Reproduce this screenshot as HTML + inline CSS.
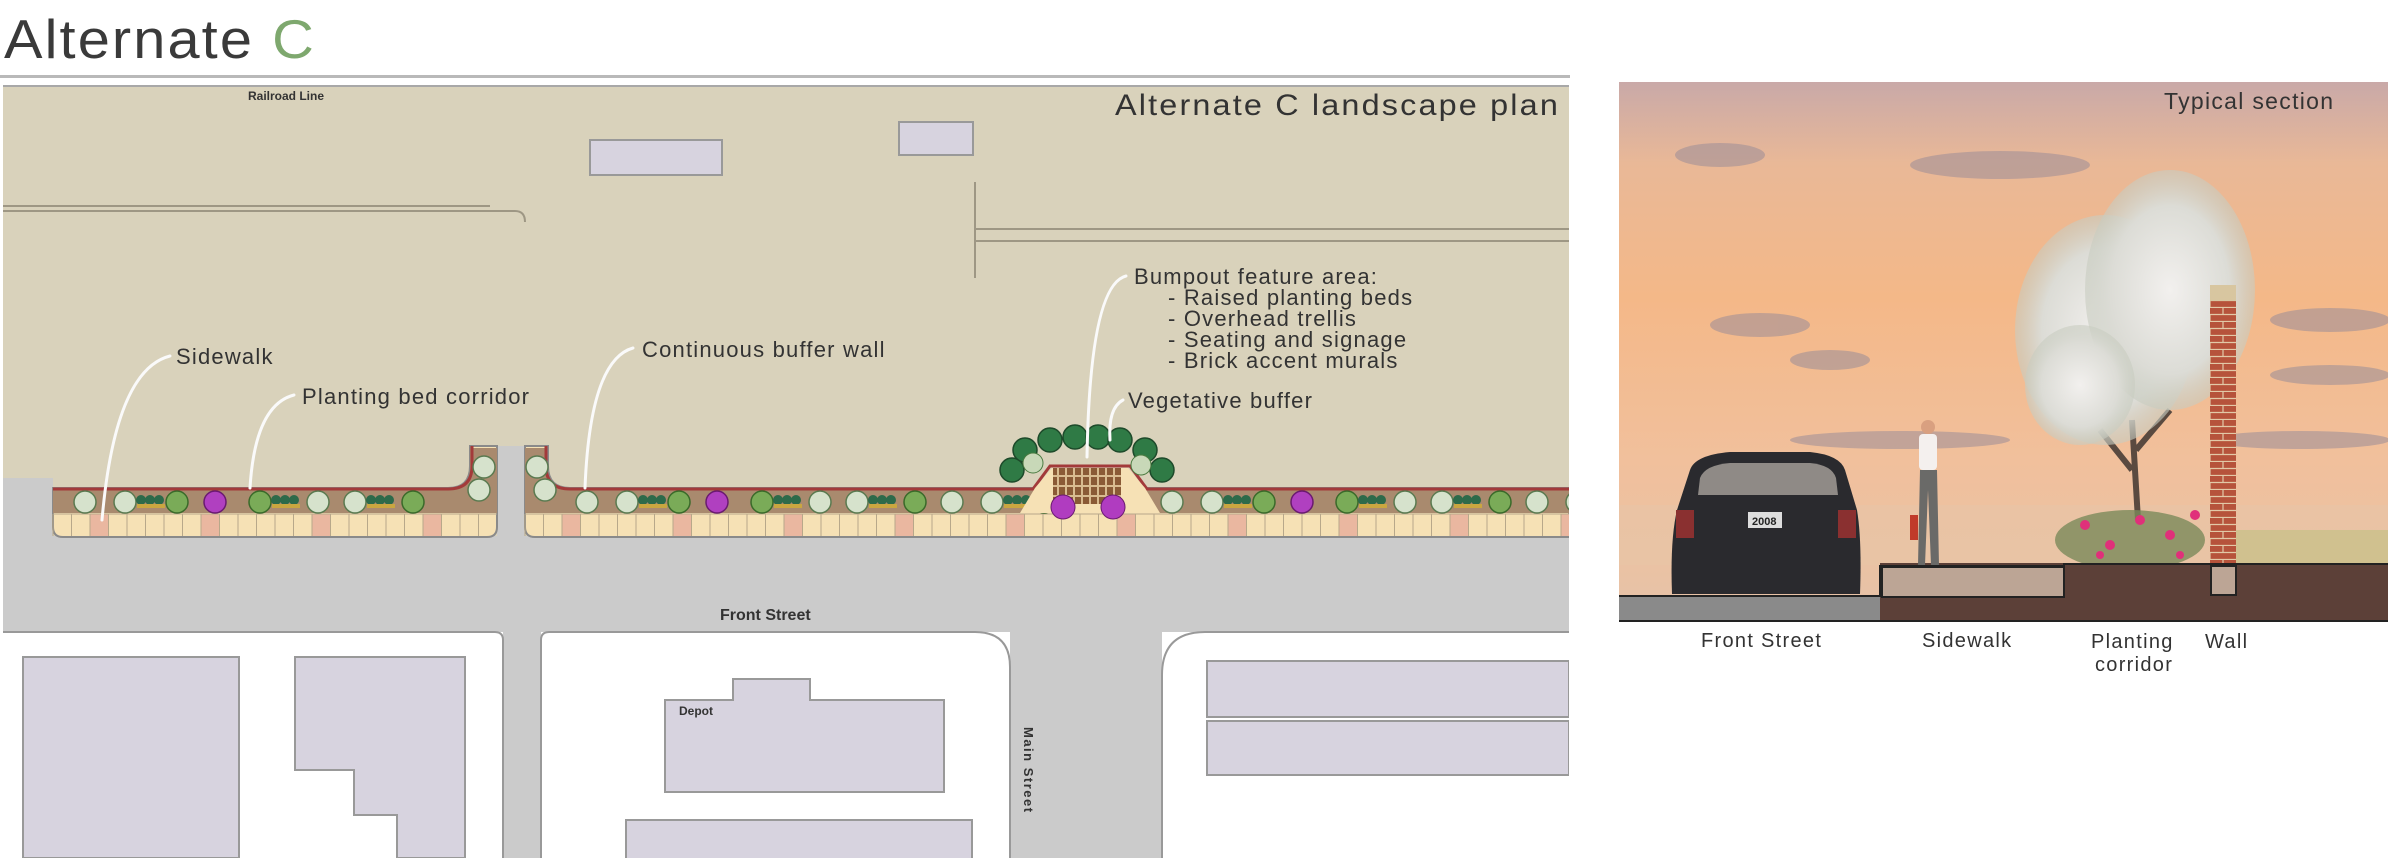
<!DOCTYPE html>
<html><head><meta charset="utf-8"><style>
html,body{margin:0;padding:0;background:#fff;width:2388px;height:858px;overflow:hidden}
svg{display:block}
</style></head><body>
<svg width="2388" height="858" viewBox="0 0 2388 858" xmlns="http://www.w3.org/2000/svg">
<defs>
<linearGradient id="sky" x1="0" y1="0" x2="0" y2="1">
<stop offset="0" stop-color="#c9a9a8"/>
<stop offset="0.15" stop-color="#e9b897"/>
<stop offset="0.4" stop-color="#f4b888"/>
<stop offset="0.7" stop-color="#f1c09c"/>
<stop offset="1" stop-color="#e6c3a8"/>
</linearGradient>
<radialGradient id="tree" cx="0.5" cy="0.5" r="0.5">
<stop offset="0" stop-color="#f2f0ee"/><stop offset="0.7" stop-color="#dcdcd6"/><stop offset="1" stop-color="#c8ccc0" stop-opacity="0.6"/>
</radialGradient>
<pattern id="brick" width="26" height="14" patternUnits="userSpaceOnUse">
<rect width="26" height="14" fill="#b6533b"/>
<path d="M0 6.5H26M0 13.5H26M13 0V6.5M0 7V14" stroke="#e2c9a7" stroke-width="1.2"/>
</pattern>
<clipPath id="planclip"><rect x="3" y="85" width="1566" height="773"/></clipPath>
</defs>

<text x="4" y="58" font-family="Liberation Sans, sans-serif" font-size="55" fill="#3a3a3a" letter-spacing="2" textLength="312" lengthAdjust="spacingAndGlyphs">Alternate <tspan fill="#7ea86e">C</tspan></text>
<rect x="0" y="75" width="1570" height="3" fill="#b9b9b9"/>

<g clip-path="url(#planclip)">
<rect x="3" y="85" width="1566" height="550" fill="#d9d2bb"/>
<rect x="3" y="85" width="1566" height="2" fill="#a8a8a8"/>
<rect x="3" y="536" width="1566" height="96" fill="#cbcbcb"/>
<rect x="3" y="478" width="50" height="60" fill="#cbcbcb"/>
<rect x="497" y="446" width="28" height="92" fill="#cbcbcb"/>
<rect x="3" y="632" width="1566" height="226" fill="#fff"/>
<rect x="503" y="632" width="38" height="226" fill="#cbcbcb"/>
<rect x="1010" y="632" width="152" height="226" fill="#cbcbcb"/>
<path d="M3 632H495Q503 632 503 640V858" fill="none" stroke="#999" stroke-width="2"/>
<path d="M541 858V640Q541 632 549 632H975Q1010 632 1010 667V858" fill="#fff" stroke="#999" stroke-width="2"/>
<path d="M1162 858V675Q1162 632 1205 632H1569" fill="#fff" stroke="#999" stroke-width="2"/>
<g fill="#d7d3df" stroke="#999" stroke-width="2">
<rect x="23" y="657" width="216" height="201"/>
<path d="M295 657H465V858H397V815H354V770H295Z"/>
<path d="M665 700H733V679H810V700H944V792H665Z"/>
<rect x="626" y="820" width="346" height="40"/>
<rect x="1207" y="661" width="362" height="56"/>
<rect x="1207" y="721" width="362" height="54"/>
<rect x="590" y="140" width="132" height="35"/>
<rect x="899" y="122" width="74" height="33"/>
</g>
<g fill="none" stroke="#9e9784" stroke-width="2">
<path d="M3 206H490"/>
<path d="M3 211H515Q525 211 525 222"/>
<path d="M975 182V278"/>
<path d="M975 229H1569M975 241H1569"/>
</g>

<path d="M53 488H448Q470 488 470 466V446H497V527Q497 537 487 537H63Q53 537 53 527Z" fill="#f6e1b5" stroke="#8a8a8a" stroke-width="2"/>
<path d="M53 490H448Q470 490 470 468V448H497V513H53Z" fill="#a98a6e"/>
<path d="M53 489H448Q472 489 472 466V446" fill="none" stroke="#a33a3a" stroke-width="3"/>
<path d="M525 446H548V466Q548 488 570 488H1569V537H535Q525 537 525 527Z" fill="#f6e1b5" stroke="#8a8a8a" stroke-width="2"/>
<path d="M525 448H546V468Q546 490 570 490H1569V513H525Z" fill="#a98a6e"/>
<path d="M546 446V466Q546 489 570 489H1033L1050 466H1130L1147 489H1569" fill="none" stroke="#a33a3a" stroke-width="3"/>
<g id="pavers"></g>
<g id="plants"></g>
<g>
<path d="M1035 488L1052 468H1128L1145 488L1160 513H1020Z" fill="#f6e1b5"/>
<rect x="1053" y="468" width="68" height="36" fill="#8a5a36"/>
<path d="M1058 468V504M1066 468V504M1074 468V504M1082 468V504M1090 468V504M1098 468V504M1106 468V504M1114 468V504M1053 476H1121M1053 486H1121M1053 496H1121" stroke="#d8bb90" stroke-width="2"/>
<g fill="#2f7a45" stroke="#1d4a2a" stroke-width="1.5">
<circle cx="1012" cy="470" r="12"/><circle cx="1025" cy="450" r="12"/><circle cx="1050" cy="440" r="12"/>
<circle cx="1075" cy="437" r="12"/><circle cx="1098" cy="437" r="12"/><circle cx="1120" cy="440" r="12"/>
<circle cx="1145" cy="450" r="12"/><circle cx="1162" cy="470" r="12"/>
</g>
<circle cx="1033" cy="463" r="10" fill="#c8d8b8" stroke="#4a7a40"/>
<circle cx="1141" cy="465" r="10" fill="#c8d8b8" stroke="#4a7a40"/>
<circle cx="1063" cy="507" r="12" fill="#b03cc0" stroke="#6a1a70"/>
<circle cx="1113" cy="507" r="12" fill="#b03cc0" stroke="#6a1a70"/>
</g>
<g fill="none" stroke="#fafafa" stroke-width="3" stroke-linecap="round">
<path d="M170 356Q115 370 102 520"/>
<path d="M294 395Q255 405 250 488"/>
<path d="M633 348Q590 360 585 488"/>
<path d="M1126 276Q1090 285 1087 457"/>
<path d="M1123 400Q1108 408 1110 440"/>
</g>
</g>
<g font-family="Liberation Sans, sans-serif" fill="#333" font-size="22" letter-spacing="1.2">
<text x="176" y="364">Sidewalk</text>
<text x="302" y="404">Planting bed corridor</text>
<text x="642" y="357">Continuous buffer wall</text>
<text x="1134" y="284">Bumpout feature area:</text>
<text x="1168" y="305">- Raised planting beds</text>
<text x="1168" y="326">- Overhead trellis</text>
<text x="1168" y="347">- Seating and signage</text>
<text x="1168" y="368">- Brick accent murals</text>
<text x="1128" y="408">Vegetative buffer</text>
</g>
<text x="1115" y="115" font-family="Liberation Sans, sans-serif" font-size="30" fill="#333" letter-spacing="2" textLength="445" lengthAdjust="spacingAndGlyphs">Alternate C landscape plan</text>
<text x="248" y="100" font-family="Liberation Sans, sans-serif" font-size="12" font-weight="bold" fill="#333">Railroad Line</text>
<text x="720" y="620" font-family="Liberation Sans, sans-serif" font-size="16" font-weight="bold" fill="#333">Front Street</text>
<text x="679" y="715" font-family="Liberation Sans, sans-serif" font-size="12" font-weight="bold" fill="#333">Depot</text>
<text transform="translate(1024,727) rotate(90)" font-family="Liberation Sans, sans-serif" font-size="13" font-weight="bold" fill="#333" letter-spacing="1.5">Main Street</text>

<rect x="1619" y="82" width="769" height="540" fill="url(#sky)"/>
<g fill="#9a8d98" opacity="0.55">
<ellipse cx="1720" cy="155" rx="45" ry="12"/><ellipse cx="1830" cy="360" rx="40" ry="10"/>
<ellipse cx="2000" cy="165" rx="90" ry="14"/><ellipse cx="2330" cy="320" rx="60" ry="12"/>
<ellipse cx="2330" cy="375" rx="60" ry="10"/><ellipse cx="1900" cy="440" rx="110" ry="9"/>
<ellipse cx="2300" cy="440" rx="90" ry="9"/><ellipse cx="1760" cy="325" rx="50" ry="12"/>
</g>
<rect x="1619" y="505" width="769" height="60" fill="#e8c4a6" opacity="0.6"/>
<path d="M2138 520L2132 420M2132 470L2100 430M2136 450L2170 410" stroke="#5a4a40" stroke-width="6"/>
<ellipse cx="2105" cy="330" rx="90" ry="115" fill="url(#tree)"/>
<ellipse cx="2170" cy="290" rx="85" ry="120" fill="url(#tree)"/>
<ellipse cx="2080" cy="385" rx="55" ry="60" fill="url(#tree)"/>
<ellipse cx="2130" cy="540" rx="75" ry="30" fill="#7a8a5a" opacity="0.8"/>
<g fill="#e0307a"><circle cx="2085" cy="525" r="5"/><circle cx="2110" cy="545" r="5"/><circle cx="2140" cy="520" r="5"/><circle cx="2170" cy="535" r="5"/><circle cx="2195" cy="515" r="5"/><circle cx="2100" cy="555" r="4"/><circle cx="2180" cy="555" r="4"/></g>
<rect x="2236" y="530" width="152" height="35" fill="#c9c08a" opacity="0.8"/>
<rect x="2210" y="300" width="26" height="264" fill="url(#brick)"/>
<rect x="2210" y="285" width="26" height="16" fill="#d8c6a0"/>
<rect x="1619" y="596" width="262" height="25" fill="#8a8a8a"/>
<rect x="1880" y="563" width="508" height="58" fill="#5c4038"/>
<rect x="1882" y="567" width="182" height="30" fill="#bca595" stroke="#222" stroke-width="2"/>
<rect x="2211" y="566" width="25" height="29" fill="#bca595" stroke="#222" stroke-width="2"/>
<path d="M1619 596H1880V566H2064V564H2388M1619 621H2388" fill="none" stroke="#222" stroke-width="2"/>
<g>
<path d="M1690 470Q1695 455 1730 452H1810Q1840 455 1845 470L1857 510Q1862 540 1860 594H1672Q1670 540 1677 510Z" fill="#2a2a2e"/>
<path d="M1700 478Q1705 465 1730 463H1810Q1832 465 1836 478L1838 495H1698Z" fill="#8f8a86"/>
<rect x="1676" y="510" width="18" height="28" fill="#8a3030"/><rect x="1838" y="510" width="18" height="28" fill="#8a3030"/>
<rect x="1748" y="512" width="34" height="16" fill="#ddd"/>
<text x="1752" y="525" font-family="Liberation Sans, sans-serif" font-size="11" font-weight="bold" fill="#222">2008</text>
</g>
<g>
<circle cx="1928" cy="427" r="7" fill="#d9a080"/>
<rect x="1919" y="434" width="18" height="36" rx="4" fill="#f4f0ee"/>
<path d="M1920 470H1937L1939 565H1931L1928 490L1925 565H1918Z" fill="#6a6a68"/>
<rect x="1910" y="515" width="8" height="25" fill="#c03a2a"/>
</g>
<text x="2164" y="109" font-family="Liberation Sans, sans-serif" font-size="23" fill="#333" letter-spacing="1.3">Typical section</text>
<g font-family="Liberation Sans, sans-serif" font-size="20" fill="#333" letter-spacing="1.3">
<text x="1701" y="647">Front Street</text>
<text x="1922" y="647">Sidewalk</text>
<text x="2091" y="648">Planting</text>
<text x="2095" y="671">corridor</text>
<text x="2205" y="648">Wall</text>
</g>
</svg>
<script>
(function(){
var NS="http://www.w3.org/2000/svg";
function el(p,t,a){var e=document.createElementNS(NS,t);for(var k in a)e.setAttribute(k,a[k]);p.appendChild(e);return e;}
var pv=document.getElementById('pavers'),pl=document.getElementById('plants');
function pavers(x0,x1){var i=0;for(var x=x0;x<x1-2;x+=18.5,i++){var w=Math.min(18.5,x1-x);
if(i%6==2)el(pv,'rect',{x:x,y:514,width:w,height:22,fill:'#eab7a0'});
el(pv,'line',{x1:x,y1:514,x2:x,y2:536,stroke:'#b8a88a','stroke-width':1});}}
pavers(53,497);pavers(525,1569);
el(pv,'line',{x1:53,y1:514,x2:497,y2:514,stroke:'#b8a88a'});
el(pv,'line',{x1:525,y1:514,x2:1569,y2:514,stroke:'#b8a88a'});
function plant(x,y,c,s){el(pl,'circle',{cx:x,cy:y,r:11,fill:c,stroke:s,'stroke-width':1.5});}
function cluster(x,y){for(var k=0;k<3;k++)el(pl,'circle',{cx:x+k*9,cy:y-2,r:5,fill:'#2d6a4a'});el(pl,'rect',{x:x-4,y:y+2,width:28,height:4,fill:'#c9a640'});}
function row(x0,x1){var x=x0;var t=0;while(x<x1){
var m=t%4;
if(m==0){plant(x,502,'#d6e2cc','#5a7a50');plant(x+40,502,'#d6e2cc','#5a7a50');cluster(x+56,502);plant(x+92,502,'#7aab58','#3a6a2a');x+=130;}
else if(m==1){plant(x,502,'#b040c0','#6a1a70');x+=45;}
else if(m==2){plant(x,502,'#7aab58','#3a6a2a');cluster(x+16,502);plant(x+58,502,'#d6e2cc','#5a7a50');x+=95;}
else {plant(x,502,'#d6e2cc','#5a7a50');cluster(x+16,502);plant(x+58,502,'#7aab58','#3a6a2a');x+=95;}
t++;}}
row(85,400);row(587,1000);row(1172,1545);
plant(484,467,'#d6e2cc','#5a7a50');plant(479,490,'#d6e2cc','#5a7a50');
plant(537,467,'#d6e2cc','#5a7a50');plant(545,490,'#d6e2cc','#5a7a50');
})();
</script>
</body></html>
